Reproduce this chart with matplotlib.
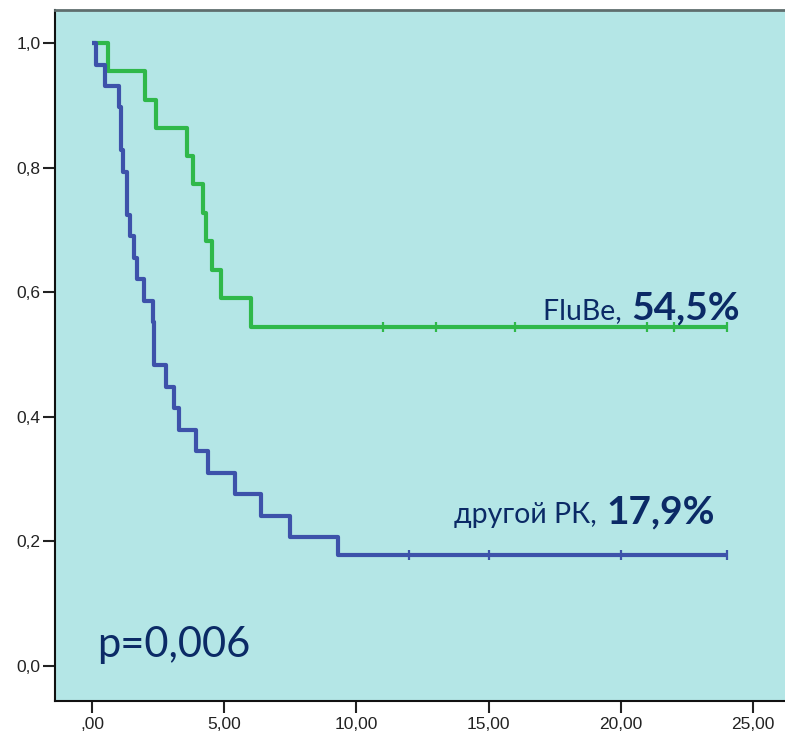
import matplotlib
matplotlib.use("Agg")
import matplotlib.pyplot as plt
from matplotlib.ticker import FixedLocator, FuncFormatter

# Kaplan-Meier estimates: event times (months) and survival after each step
flube_times = [0.0, 0.59, 2.02, 2.42, 3.58, 3.80, 4.20, 4.30, 4.52, 4.88, 6.01]
flube_surv = [1.0, 0.9545, 0.909, 0.864, 0.818, 0.773, 0.727, 0.682, 0.636, 0.591, 0.545]
flube_censored = [11, 13, 16, 21, 22, 24]

other_times = [0.0, 0.165, 0.48, 1.01, 1.10, 1.19, 1.33, 1.42, 1.60, 1.69, 1.98,
               2.29, 2.36, 2.79, 3.11, 3.29, 3.92, 4.40, 5.40, 6.40, 7.49, 9.30]
other_surv = [1.0, 0.9655, 0.931, 0.897, 0.828, 0.793, 0.724, 0.690, 0.655, 0.621, 0.586,
              0.552, 0.483, 0.448, 0.414, 0.379, 0.345, 0.310, 0.276, 0.241, 0.207, 0.179]
other_censored = [12, 15, 20, 24]

x_ticks = [0, 5, 10, 15, 20, 25]
y_ticks = [0.0, 0.2, 0.4, 0.6, 0.8, 1.0]

flube_name = "FluBe, "
other_name = "другой РК, "
p_text = "p=0,006"

GREEN = "#2fb84a"
BLUE = "#3d52aa"
NAVY = "#0b2a66"
BG = "#b4e6e6"

fig = plt.figure(figsize=(7.85, 7.34), dpi=100)
ax = fig.add_axes([55 / 785, 1 - 701 / 734, 1 - 55 / 785 + 0.01, (701 - 10) / 734])
ax.set_facecolor(BG)


def km_line(times, surv, censored, color):
    end = max(censored)
    xs = list(times) + [end]
    ys = list(surv) + [surv[-1]]
    ax.step(xs, ys, where="post", color=color, lw=3.0, solid_capstyle="butt", zorder=3)
    ax.plot(censored, [surv[-1]] * len(censored), ls="none", marker="|",
            ms=7.5, mew=1.6, color=color, zorder=4)


km_line(flube_times, flube_surv, flube_censored, GREEN)
km_line(other_times, other_surv, other_censored, BLUE)

ax.set_xlim(-1.40, 26.5)
ax.set_ylim(-0.056, 1.053)

ax.xaxis.set_major_locator(FixedLocator(x_ticks))
ax.yaxis.set_major_locator(FixedLocator(y_ticks))


def fmt_x(v, pos):
    s = f"{v:.2f}".replace(".", ",")
    return s[1:] if s.startswith("0,") else s


ax.xaxis.set_major_formatter(FuncFormatter(fmt_x))
ax.yaxis.set_major_formatter(FuncFormatter(lambda v, p: f"{v:.1f}".replace(".", ",")))

for lab in ax.get_xticklabels() + ax.get_yticklabels():
    lab.set_fontfamily("Liberation Sans")
    lab.set_fontsize(12.5)
    lab.set_color("#222222")
ax.tick_params(axis="both", length=8.5, width=1.5, color="#222222")
ax.tick_params(axis="x", pad=3)
ax.tick_params(axis="y", pad=2)

for side in ("left", "bottom"):
    ax.spines[side].set_color("#111111")
    ax.spines[side].set_linewidth(1.5)
ax.spines["top"].set_color("#5f6e6e")
ax.spines["top"].set_linewidth(2.0)
ax.spines["right"].set_visible(False)

# p-value
ax.text(0.2, 0.015, p_text, family="Lato", fontsize=30, color=NAVY,
        ha="left", va="baseline", zorder=5)


def end_label(x_right, y_base, name, value):
    bold = ax.text(x_right, y_base, f"{value * 100:.1f}%".replace(".", ","),
                   family="Lato", fontweight="bold", fontsize=28, color=NAVY,
                   ha="right", va="baseline", zorder=5)
    fig.canvas.draw()
    bb = bold.get_window_extent()
    x_left_data = ax.transData.inverted().transform((bb.x0 - 2, 0))[0]
    ax.text(x_left_data, y_base, name, family="Lato", fontsize=20.5, color=NAVY,
            ha="right", va="baseline", zorder=5)


end_label(24.5, 0.557, flube_name, flube_surv[-1])
end_label(23.55, 0.2295, other_name, other_surv[-1])

fig.savefig("out.png", dpi=100, facecolor="white")
